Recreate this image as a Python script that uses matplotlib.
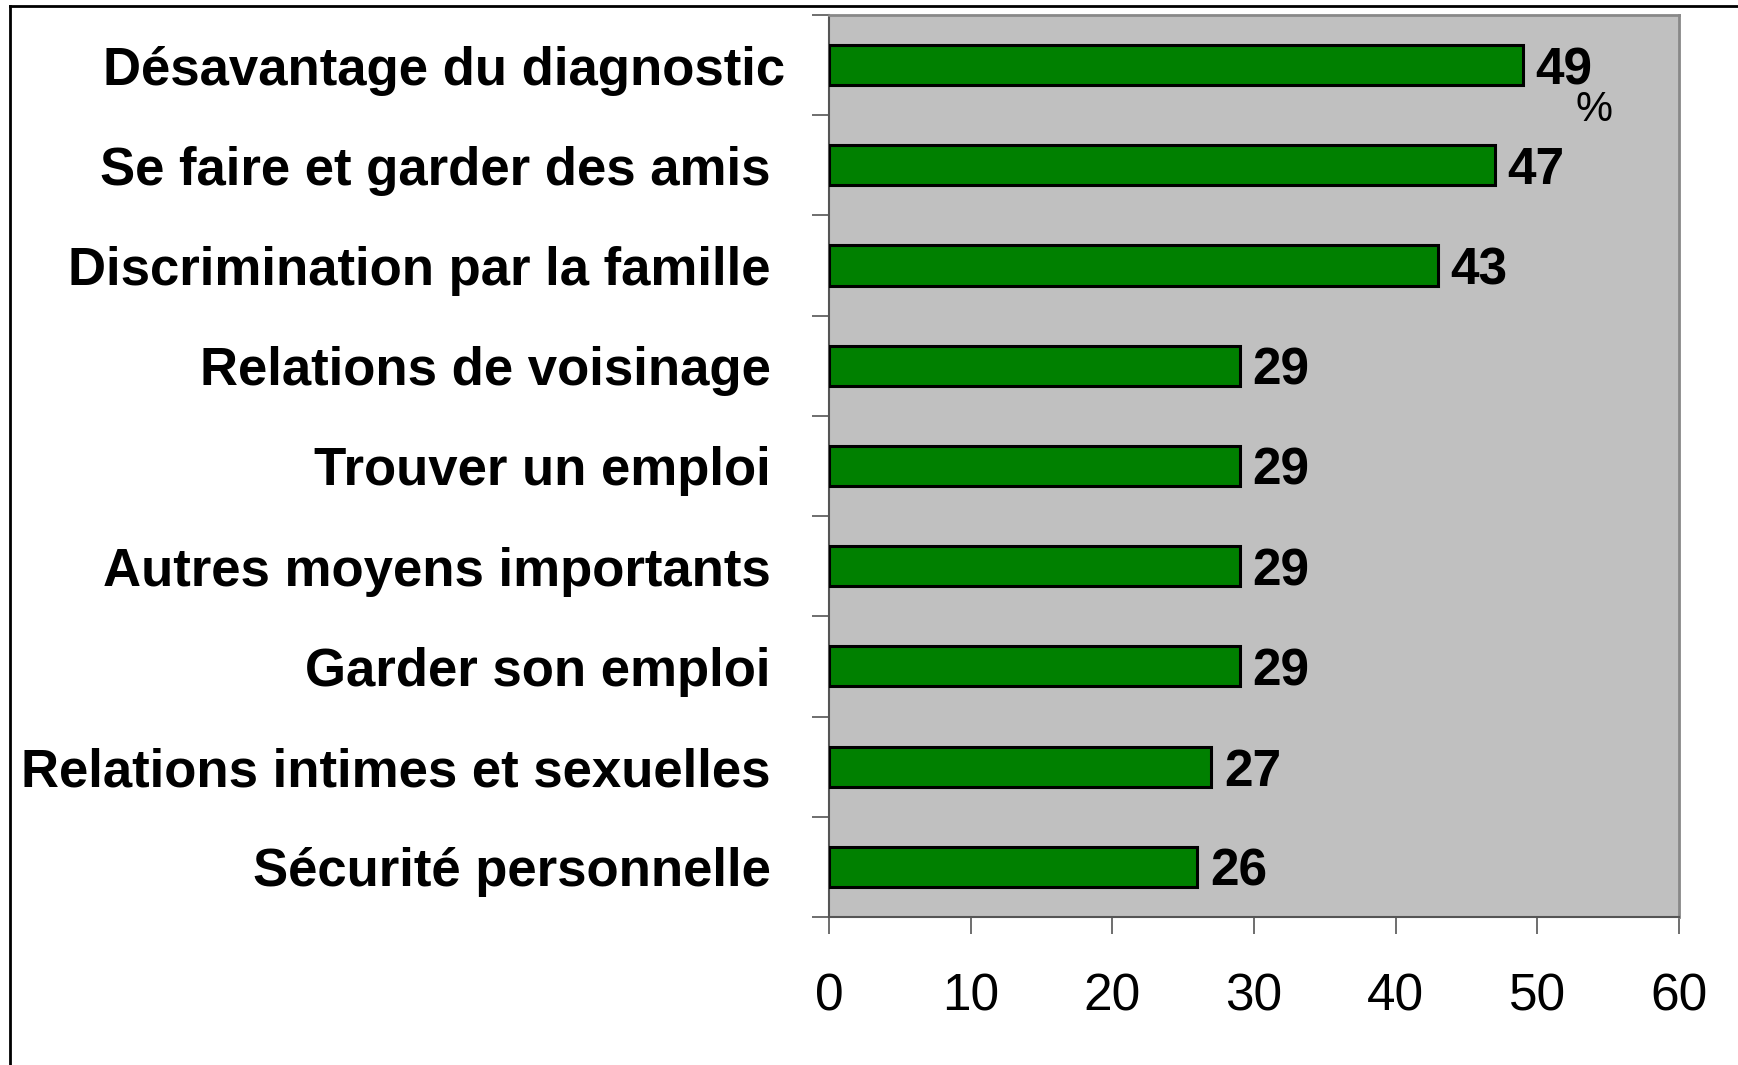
import matplotlib
matplotlib.use("Agg")
import matplotlib.pyplot as plt
import matplotlib.transforms as mtransforms
from matplotlib.lines import Line2D

categories = [
    "Désavantage du diagnostic",
    "Se faire et garder des amis",
    "Discrimination par la famille",
    "Relations de voisinage",
    "Trouver un emploi",
    "Autres moyens importants",
    "Garder son emploi",
    "Relations intimes et sexuelles",
    "Sécurité personnelle",
]
values = [49, 47, 43, 29, 29, 29, 29, 27, 26]
xticks = [0, 10, 20, 30, 40, 50, 60]

narrow = ["Liberation Sans Narrow", "Liberation Sans", "DejaVu Sans"]
plt.rcParams["font.family"] = ["Liberation Sans", "DejaVu Sans"]

fig = plt.figure(figsize=(17.38, 10.65), dpi=100)
ax = fig.add_axes([0.477, 0.139, 0.489, 0.847])
ax.set_facecolor("#c0c0c0")

pos = list(range(len(categories)))
ax.barh(pos, values, height=0.4, color="#008000", edgecolor="black", linewidth=2.2, zorder=3)

for y, v in zip(pos, values):
    ax.annotate(str(v), (v, y), xytext=(9, -4), textcoords="offset points",
                ha="left", va="center", fontsize=37, fontweight="bold",
                family=narrow, zorder=4)

ax.text(54, 0.45, "%", ha="center", va="center", fontsize=30, family=narrow)

ax.set_xlim(0, 60)
ax.set_ylim(8.5, -0.5)
ax.set_xticks(xticks)
ax.set_xticklabels([str(t) for t in xticks], fontsize=37, family=narrow)
ax.tick_params(axis="x", direction="out", length=12, width=1.2, color="#555555", pad=28)

ax.set_yticks(pos)
ax.set_yticklabels(categories, fontsize=38, fontweight="bold")
ax.set_yticks([p - 0.5 for p in pos] + [8.5], minor=True)
ax.tick_params(axis="y", which="major", length=0, pad=42)
ax.tick_params(axis="y", which="minor", direction="out", length=12, width=1.2, color="#555555")

# first label sits a little further right in the original
first = ax.get_yticklabels()[0]
first.set_transform(first.get_transform() + mtransforms.ScaledTranslation(14 / 100, 0, fig.dpi_scale_trans))

for side in ["left", "bottom"]:
    ax.spines[side].set_color("#555555")
    ax.spines[side].set_linewidth(1.5)
for side in ["right", "top"]:
    ax.spines[side].set_color("#888888")
    ax.spines[side].set_linewidth(2)

# outer frame (top and left edges visible)
fig.add_artist(Line2D([10 / 1738, 1], [1 - 6 / 1065, 1 - 6 / 1065], color="black", linewidth=2))
fig.add_artist(Line2D([10 / 1738, 10 / 1738], [0, 1 - 6 / 1065], color="black", linewidth=2))

fig.savefig("out.png", dpi=100)
